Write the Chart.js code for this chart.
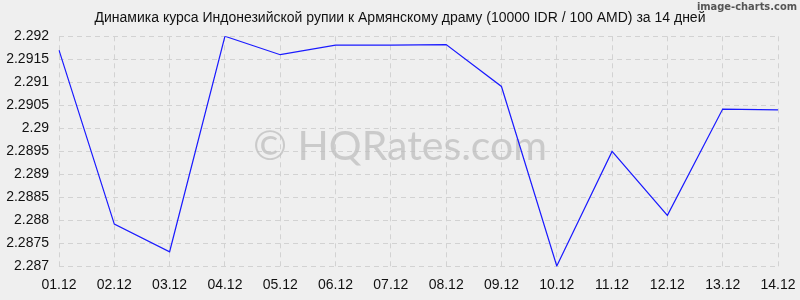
<!DOCTYPE html>
<html>
<head>
<meta charset="utf-8">
<script src="https://cdn.jsdelivr.net/npm/chart.js@4/dist/chart.umd.min.js"></script>
<style>
  html, body { margin: 0; padding: 0; background: #efefef; }
  #wrap { width: 800px; height: 300px; position: relative; }
</style>
</head>
<body>
<div id="wrap"><canvas id="c" width="800" height="300"></canvas></div>
<script>
const titleText = "Динамика курса Индонезийской рупии к Армянскому драму (10000 IDR / 100 AMD) за 14 дней";
const categories = ["01.12","02.12","03.12","04.12","05.12","06.12","07.12","08.12","09.12","10.12","11.12","12.12","13.12","14.12"];
const rateValues = [2.29170, 2.28792, 2.28732, 2.29200, 2.29160, 2.29181, 2.29181, 2.29182, 2.29091, 2.28701, 2.28950, 2.28811, 2.29042, 2.29040];
const yMin = 2.287;
const yMax = 2.292;
const yStep = 0.0005;
const watermarkText = "© HQRates.com";
const creditText = "image-charts.com";

const decor = {
  id: 'decor',
  beforeDraw(chart) {
    const ctx = chart.ctx;
    ctx.save();
    ctx.fillStyle = '#efefef';
    ctx.fillRect(0, 0, chart.width, chart.height);
    ctx.restore();
  },
  beforeDatasetsDraw(chart) {
    const ctx = chart.ctx;
    ctx.save();
    ctx.font = '41px Lato, "Open Sans", sans-serif';
    ctx.fillStyle = 'rgba(190,190,190,0.75)';
    ctx.textAlign = 'center';
    ctx.textBaseline = 'middle';
    ctx.fillText(watermarkText, 400, 147);
    ctx.restore();
  },
  afterDraw(chart) {
    const ctx = chart.ctx;
    ctx.save();
    ctx.font = 'bold 11px "Liberation Sans Narrow", "DejaVu Sans Condensed", sans-serif';
    ctx.fillStyle = '#555';
    ctx.textAlign = 'right';
    ctx.textBaseline = 'middle';
    ctx.fillText(creditText, 797, 7);
    ctx.restore();
  }
};

new Chart(document.getElementById('c'), {
  type: 'line',
  data: {
    labels: categories,
    datasets: [{
      data: rateValues,
      borderColor: '#1a1aff',
      borderWidth: 1.2,
      pointRadius: 0,
      tension: 0,
      fill: false
    }]
  },
  options: {
    responsive: false,
    animation: false,
    layout: { padding: { left: 0, right: 0, top: 0, bottom: 0 } },
    plugins: {
      legend: { display: false },
      tooltip: { enabled: false },
      title: {
        display: true,
        text: titleText,
        color: '#111',
        font: { family: '"Liberation Sans", Arial, sans-serif', size: 14, weight: 'normal' },
        padding: { top: 10, bottom: 9.5 }
      }
    },
    scales: {
      x: {
        type: 'category',
        offset: false,
        grid: { color: '#d2d2d2', drawTicks: false, lineWidth: 1 },
        border: { display: false, dash: [5, 4] },
        afterFit(scale) {
          scale.height = 33.5;
          scale.paddingRight = 22;
          scale.paddingLeft = 0;
        },
        ticks: {
          color: '#111',
          font: { family: '"Liberation Sans", Arial, sans-serif', size: 14 },
          padding: 10,
          maxRotation: 0,
          autoSkip: false
        }
      },
      y: {
        min: yMin,
        max: yMax,
        grid: { color: '#d2d2d2', drawTicks: false, lineWidth: 1 },
        border: { display: false, dash: [5, 4] },
        afterFit(scale) {
          scale.width = 59;
        },
        ticks: {
          stepSize: yStep,
          color: '#111',
          font: { family: '"Liberation Sans", Arial, sans-serif', size: 14 },
          padding: 10,
          callback: (v) => String(Number(Number(v).toFixed(4)))
        }
      }
    }
  },
  plugins: [decor]
});
</script>
</body>
</html>
